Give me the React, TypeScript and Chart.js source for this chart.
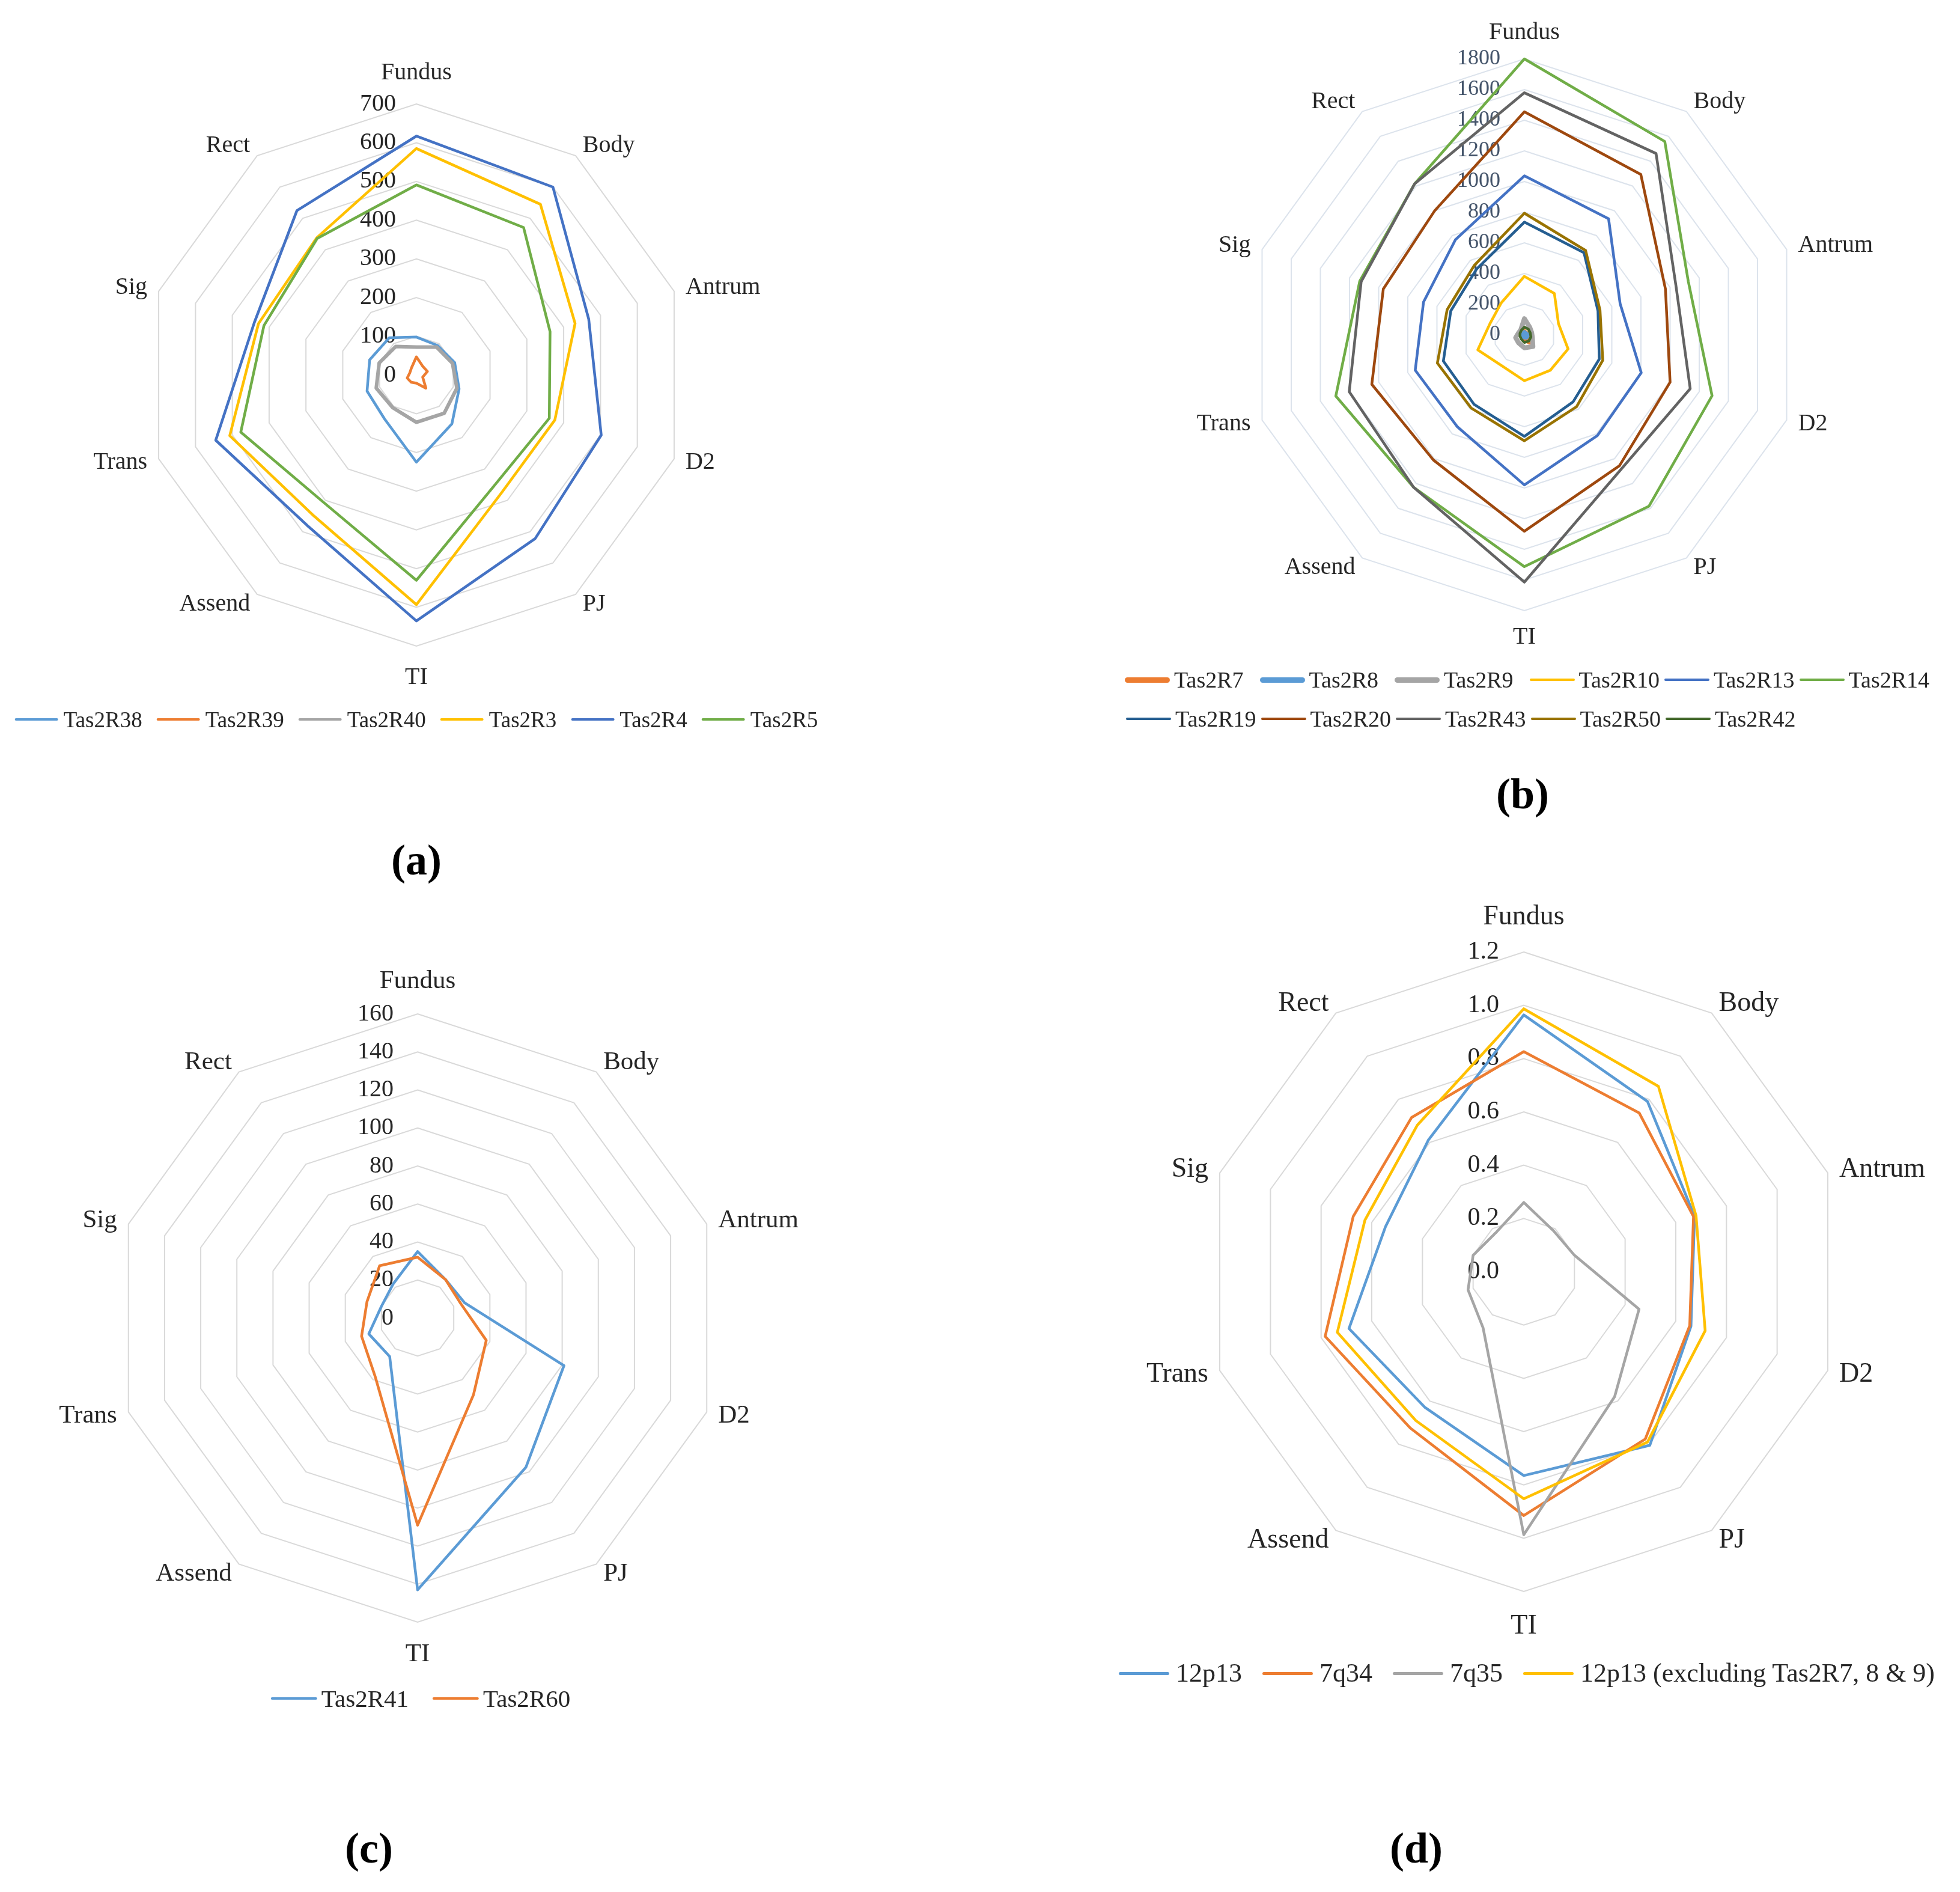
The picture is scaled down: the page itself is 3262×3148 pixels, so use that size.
import React, { useEffect, useRef } from 'react';
import { Chart, registerables } from 'chart.js';

Chart.register(...registerables);

const FONT = '"Liberation Serif", "Times New Roman", serif';

const CATEGORIES = ['Fundus', 'Body', 'Antrum', 'D2', 'PJ', 'TI', 'Assend', 'Trans', 'Sig', 'Rect'];

// Excel palette
const C_LBLUE = '#5B9BD5';
const C_ORANGE = '#ED7D31';
const C_GRAY = '#A5A5A5';
const C_GOLD = '#FFC000';
const C_BLUE = '#4472C4';
const C_GREEN = '#70AD47';
const C_DBLUE = '#255E91';
const C_DORANGE = '#9E480E';
const C_DGRAY = '#636363';
const C_OLIVE = '#997300';
const C_DGREEN = '#43682B';

// ---------- Panel (a) ----------
const A_TICKS = [0, 100, 200, 300, 400, 500, 600, 700];
const A_TAS2R38 = [98, 94, 104, 116, 156, 225, 140, 134, 127, 119];
const A_TAS2R39 = [47, 28, 30, 17, 42, 21, 23, 25, 18, 22];
const A_TAS2R40 = [72, 89, 98, 110, 122, 122, 104, 109, 101, 91];
const A_TAS2R3 = [585, 545, 431, 376, 375, 593, 450, 507, 429, 438];
const A_TAS2R4 = [617, 600, 468, 502, 522, 635, 480, 545, 440, 525];
const A_TAS2R5 = [491, 471, 363, 361, 348, 530, 407, 477, 414, 436];

// ---------- Panel (b) ----------
const B_TICKS = [0, 200, 400, 600, 800, 1000, 1200, 1400, 1600, 1800];
const B_TAS2R7 = [20, 15, 20, 40, 60, 30, 15, 15, 10, 10];
const B_TAS2R8 = [15, 12, 15, 20, 20, 15, 12, 12, 10, 10];
const B_TAS2R9 = [105, 60, 50, 55, 95, 85, 65, 60, 40, 40];
const B_TAS2R10 = [381, 333, 234, 300, 287, 300, 250, 320, 236, 257];
const B_TAS2R13 = [1037, 935, 657, 802, 812, 980, 743, 749, 692, 766];
const B_TAS2R14 = [1800, 1559, 1125, 1288, 1383, 1513, 1230, 1294, 1130, 1218];
const B_TAS2R19 = [735, 662, 505, 514, 541, 663, 560, 556, 505, 530];
const B_TAS2R20 = [1455, 1293, 968, 1000, 1056, 1282, 1010, 1047, 968, 998];
const B_TAS2R43 = [1579, 1462, 1040, 1138, 1080, 1614, 1230, 1202, 1120, 1218];
const B_TAS2R50 = [793, 680, 519, 538, 580, 692, 591, 597, 530, 558];
const B_TAS2R42 = [50, 45, 40, 45, 50, 50, 35, 30, 30, 35];

// ---------- Panel (c) ----------
const C_TICKS = [0, 20, 40, 60, 80, 100, 120, 140, 160];
const C_TAS2R41 = [35, 25, 26, 81, 97, 143, 25, 27, 20, 22];
const C_TAS2R60 = [32, 25, 24, 38, 50, 109, 38, 31, 28, 34];

// ---------- Panel (d) ----------
const D_TICKS = [0, 0.2, 0.4, 0.6, 0.8, 1.0, 1.2];
const D_12P13 = [0.964, 0.79, 0.674, 0.66, 0.805, 0.765, 0.63, 0.69, 0.546, 0.61];
const D_7Q34 = [0.826, 0.737, 0.67, 0.655, 0.776, 0.915, 0.725, 0.784, 0.673, 0.716];
const D_7Q35 = [0.26, 0.19, 0.2, 0.455, 0.58, 0.987, 0.26, 0.22, 0.2, 0.18];
const D_12P13_EXCL = [0.987, 0.86, 0.68, 0.716, 0.79, 0.852, 0.69, 0.736, 0.627, 0.68];

type Series = { label: string; data: number[]; color: string; width: number; legendWidth: number };

const A_SERIES: Series[] = [
  { label: 'Tas2R38', data: A_TAS2R38, color: C_LBLUE, width: 4.5, legendWidth: 4.5 },
  { label: 'Tas2R39', data: A_TAS2R39, color: C_ORANGE, width: 4.5, legendWidth: 4.5 },
  { label: 'Tas2R40', data: A_TAS2R40, color: C_GRAY, width: 6, legendWidth: 4.5 },
  { label: 'Tas2R3', data: A_TAS2R3, color: C_GOLD, width: 4.5, legendWidth: 4.5 },
  { label: 'Tas2R4', data: A_TAS2R4, color: C_BLUE, width: 4.5, legendWidth: 4.5 },
  { label: 'Tas2R5', data: A_TAS2R5, color: C_GREEN, width: 4.5, legendWidth: 4.5 },
];

const B_SERIES: Series[] = [
  { label: 'Tas2R7', data: B_TAS2R7, color: C_ORANGE, width: 8, legendWidth: 9 },
  { label: 'Tas2R8', data: B_TAS2R8, color: C_LBLUE, width: 8, legendWidth: 9 },
  { label: 'Tas2R9', data: B_TAS2R9, color: C_GRAY, width: 8, legendWidth: 9 },
  { label: 'Tas2R10', data: B_TAS2R10, color: C_GOLD, width: 4.5, legendWidth: 4 },
  { label: 'Tas2R13', data: B_TAS2R13, color: C_BLUE, width: 4.5, legendWidth: 4 },
  { label: 'Tas2R14', data: B_TAS2R14, color: C_GREEN, width: 4.5, legendWidth: 4 },
  { label: 'Tas2R19', data: B_TAS2R19, color: C_DBLUE, width: 4.5, legendWidth: 4 },
  { label: 'Tas2R20', data: B_TAS2R20, color: C_DORANGE, width: 4.5, legendWidth: 4 },
  { label: 'Tas2R43', data: B_TAS2R43, color: C_DGRAY, width: 4.5, legendWidth: 4 },
  { label: 'Tas2R50', data: B_TAS2R50, color: C_OLIVE, width: 4.5, legendWidth: 4 },
  { label: 'Tas2R42', data: B_TAS2R42, color: C_DGREEN, width: 4.5, legendWidth: 4 },
];

const C_SERIES: Series[] = [
  { label: 'Tas2R41', data: C_TAS2R41, color: C_LBLUE, width: 4.5, legendWidth: 4 },
  { label: 'Tas2R60', data: C_TAS2R60, color: C_ORANGE, width: 4.5, legendWidth: 4 },
];

const D_SERIES: Series[] = [
  { label: '12p13', data: D_12P13, color: C_LBLUE, width: 4.5, legendWidth: 5 },
  { label: '7q34', data: D_7Q34, color: C_ORANGE, width: 4.5, legendWidth: 5 },
  { label: '7q35', data: D_7Q35, color: C_GRAY, width: 4.5, legendWidth: 5 },
  { label: '12p13 (excluding Tas2R7, 8 & 9)', data: D_12P13_EXCL, color: C_GOLD, width: 4.5, legendWidth: 5 },
];

type PanelProps = {
  cx: number;
  cy: number;
  R: number;
  ticks: number[];
  digits: number;
  series: Series[];
  labelFont: number;
  tickFont: number;
  tickOffset: number;
  vertOff: number;
  tickColor: string;
  labelColor: string;
  gridColor: string;
};

function RadarPanel(p: PanelProps) {
  const ref = useRef<HTMLCanvasElement | null>(null);
  const PAD = 270;
  const S = 2 * p.R + 2 * PAD;

  useEffect(() => {
    const canvas = ref.current;
    if (!canvas) return;
    const n = CATEGORIES.length;

    const labelPlugin = {
      id: 'excelLabels',
      beforeDatasetsDraw(chart: any) {
        const scale = chart.scales.r;
        const ctx = chart.ctx;
        ctx.save();
        ctx.font = `${p.tickFont}px ${FONT}`;
        ctx.fillStyle = p.tickColor;
        ctx.textAlign = 'right';
        ctx.textBaseline = 'middle';
        p.ticks.forEach((v) => {
          const d = scale.getDistanceFromCenterForValue(v);
          ctx.fillText(v.toFixed(p.digits), scale.xCenter - p.tickOffset, scale.yCenter - d);
        });
        ctx.restore();
      },
      afterDraw(chart: any) {
        const scale = chart.scales.r;
        const ctx = chart.ctx;
        ctx.save();
        ctx.font = `${p.labelFont}px ${FONT}`;
        ctx.fillStyle = p.labelColor;
        ctx.textBaseline = 'middle';
        CATEGORIES.forEach((lab, i) => {
          const ang = (i * 2 * Math.PI) / n;
          const s = Math.sin(ang);
          let off: number;
          let align: CanvasTextAlign;
          if (Math.abs(s) < 0.01) {
            off = p.R + p.vertOff;
            align = 'center';
          } else {
            off = p.R + 20;
            align = s > 0 ? 'left' : 'right';
          }
          const pt = scale.getPointPosition(i, off);
          ctx.textAlign = align;
          ctx.fillText(lab, pt.x, pt.y);
        });
        ctx.restore();
      },
    };

    const nS = p.series.length;
    const chart = new Chart(canvas, {
      type: 'radar',
      data: {
        labels: CATEGORIES,
        datasets: p.series.map((s, i) => ({
          label: s.label,
          data: s.data,
          borderColor: s.color,
          backgroundColor: 'rgba(0,0,0,0)',
          borderWidth: s.width,
          borderJoinStyle: 'round',
          borderCapStyle: 'round',
          fill: false,
          pointRadius: 0,
          pointHoverRadius: 0,
          tension: 0,
          order: nS - i,
        })),
      },
      options: {
        responsive: false,
        animation: false,
        devicePixelRatio: 1,
        layout: { padding: PAD },
        plugins: { legend: { display: false }, tooltip: { enabled: false } },
        scales: {
          r: {
            min: p.ticks[0],
            max: p.ticks[p.ticks.length - 1],
            ticks: { display: false, stepSize: p.ticks[1] - p.ticks[0] },
            grid: { color: p.gridColor, lineWidth: 2 },
            angleLines: { display: false },
            pointLabels: { display: false },
          },
        },
      } as any,
      plugins: [labelPlugin as any],
    });
    return () => chart.destroy();
  }, []);

  return (
    <canvas
      ref={ref}
      width={S}
      height={S}
      style={{ position: 'absolute', left: p.cx - S / 2, top: p.cy - S / 2, width: S, height: S }}
    />
  );
}

function LegendItem({ s, lineLen, gap, fs, width }: { s: Series; lineLen: number; gap: number; fs: number; width?: number }) {
  return (
    <div style={{ display: 'flex', alignItems: 'center', width: width, flex: 'none' }}>
      <div
        style={{
          width: lineLen,
          height: s.legendWidth,
          background: s.color,
          borderRadius: s.legendWidth / 2,
          marginRight: gap,
          flex: 'none',
        }}
      />
      <span style={{ fontSize: fs, fontFamily: FONT, color: '#262626', lineHeight: 1, whiteSpace: 'nowrap' }}>{s.label}</span>
    </div>
  );
}

function CenteredLegend({ series, cx, cy, fs, lineLen, gap, after }: { series: Series[]; cx: number; cy: number; fs: number; lineLen: number; gap: number; after: number }) {
  return (
    <div
      style={{
        position: 'absolute',
        left: cx,
        top: cy - fs / 2,
        transform: 'translateX(-50%)',
        display: 'flex',
        alignItems: 'center',
        gap: after,
        height: fs,
        whiteSpace: 'nowrap',
      }}
    >
      {series.map((s) => (
        <LegendItem key={s.label} s={s} lineLen={lineLen} gap={gap} fs={fs} />
      ))}
    </div>
  );
}

function PanelLabel({ text, x, y }: { text: string; x: number; y: number }) {
  return (
    <div
      style={{
        position: 'absolute',
        left: x,
        top: y - 36,
        transform: 'translateX(-50%)',
        fontFamily: FONT,
        fontWeight: 'bold',
        fontSize: 72,
        lineHeight: '72px',
        color: '#000',
        whiteSpace: 'nowrap',
      }}
    >
      {text}
    </div>
  );
}

export default function App() {
  const bRow1 = B_SERIES.slice(0, 6);
  const bRow2 = B_SERIES.slice(6);
  const bCol = 224.5;
  return (
    <div style={{ position: 'absolute', left: 0, top: 0, width: 3262, height: 3148, background: '#fff', overflow: 'hidden' }}>
      <RadarPanel
        cx={693}
        cy={624}
        R={451}
        ticks={A_TICKS}
        digits={0}
        series={A_SERIES}
        labelFont={40}
        tickFont={40}
        tickOffset={34}
        vertOff={52}
        tickColor="#262626"
        labelColor="#262626"
        gridColor="#D9D9D9"
      />
      <RadarPanel
        cx={2537}
        cy={557}
        R={459}
        ticks={B_TICKS}
        digits={0}
        series={B_SERIES}
        labelFont={40}
        tickFont={36}
        tickOffset={40}
        vertOff={44}
        tickColor="#44546A"
        labelColor="#262626"
        gridColor="#DCE3EC"
      />
      <RadarPanel
        cx={695}
        cy={2193}
        R={506}
        ticks={C_TICKS}
        digits={0}
        series={C_SERIES}
        labelFont={43}
        tickFont={40}
        tickOffset={40}
        vertOff={54}
        tickColor="#262626"
        labelColor="#262626"
        gridColor="#D9D9D9"
      />
      <RadarPanel
        cx={2536}
        cy={2116}
        R={532}
        ticks={D_TICKS}
        digits={1}
        series={D_SERIES}
        labelFont={46}
        tickFont={42}
        tickOffset={41}
        vertOff={58}
        tickColor="#262626"
        labelColor="#262626"
        gridColor="#D9D9D9"
      />

      <CenteredLegend series={A_SERIES} cx={693} cy={1197} fs={37} lineLen={72} gap={9} after={24} />
      <div style={{ position: 'absolute', left: 1872, top: 1131 - 19, display: 'flex', height: 38 }}>
        {bRow1.map((s) => (
          <LegendItem key={s.label} s={s} lineLen={75} gap={7} fs={38} width={bCol} />
        ))}
      </div>
      <div style={{ position: 'absolute', left: 1874, top: 1196 - 19, display: 'flex', height: 38 }}>
        {bRow2.map((s) => (
          <LegendItem key={s.label} s={s} lineLen={75} gap={7} fs={38} width={bCol} />
        ))}
      </div>
      <CenteredLegend series={C_SERIES} cx={700} cy={2826} fs={41} lineLen={77} gap={7} after={40} />
      <CenteredLegend series={D_SERIES} cx={2541} cy={2784} fs={44} lineLen={84} gap={11} after={34} />

      <PanelLabel text="(a)" x={693} y={1431} />
      <PanelLabel text="(b)" x={2534} y={1321} />
      <PanelLabel text="(c)" x={614} y={3075} />
      <PanelLabel text="(d)" x={2357} y={3075} />
    </div>
  );
}
